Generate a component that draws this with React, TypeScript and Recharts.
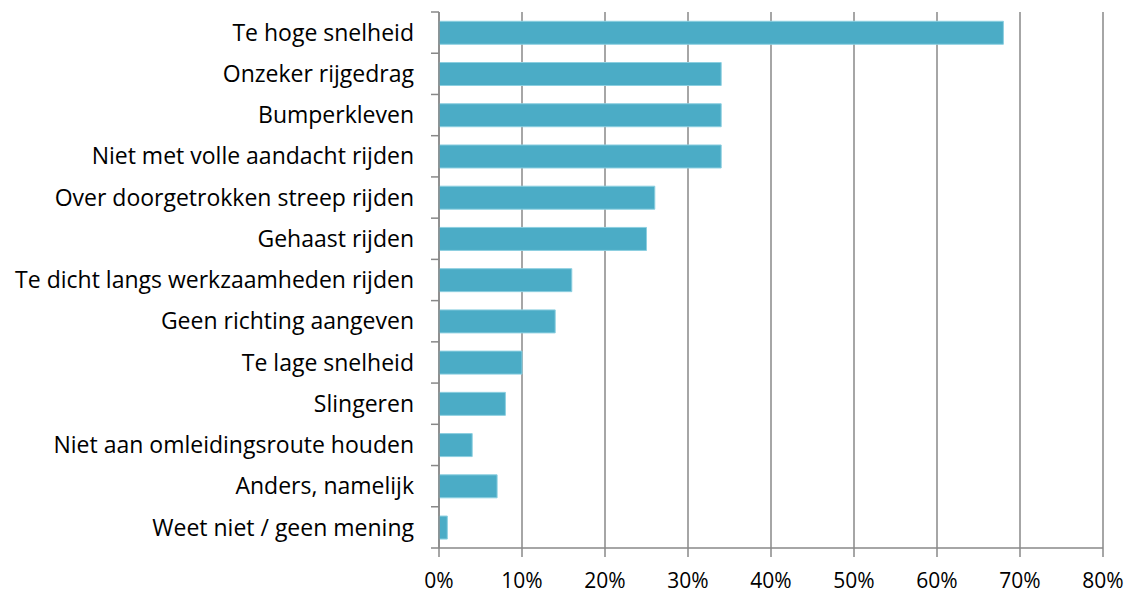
import React from 'react';
import { BarChart, Bar, XAxis, YAxis, CartesianGrid } from 'recharts';

const categories: string[] = [
  'Te hoge snelheid',
  'Onzeker rijgedrag',
  'Bumperkleven',
  'Niet met volle aandacht rijden',
  'Over doorgetrokken streep rijden',
  'Gehaast rijden',
  'Te dicht langs werkzaamheden rijden',
  'Geen richting aangeven',
  'Te lage snelheid',
  'Slingeren',
  'Niet aan omleidingsroute houden',
  'Anders, namelijk',
  'Weet niet / geen mening',
];
const values: number[] = [68, 34, 34, 34, 26, 25, 16, 14, 10, 8, 4, 7, 1];
const xTicks: number[] = [0, 10, 20, 30, 40, 50, 60, 70, 80];

const data = categories.map((name, i) => ({ name, value: values[i] }));

const GRAY = '#888888';
const FONT = "'Open Sans', sans-serif";
const Y_TICK_SIZE = 8;
const Y_TICK_MARGIN = 17;

const CategoryTick = (props: any) => {
  const { x, y, payload, index, visibleTicksCount } = props;
  const half: number = payload && typeof payload.offset === 'number' ? payload.offset : 0;
  const axisX = x + Y_TICK_SIZE + Y_TICK_MARGIN;
  const isLast = index === visibleTicksCount - 1;
  return (
    <g>
      <line x1={axisX - Y_TICK_SIZE} x2={axisX} y1={y - half} y2={y - half} stroke={GRAY} strokeWidth={1.5} />
      {isLast ? (
        <line x1={axisX - Y_TICK_SIZE} x2={axisX} y1={y + half} y2={y + half} stroke={GRAY} strokeWidth={1.5} />
      ) : null}
      <text x={x} y={y} dy="0.355em" textAnchor="end" fill="#000000" fontSize={23} fontFamily={FONT}>
        {payload.value}
      </text>
    </g>
  );
};

export default function App() {
  return (
    <div style={{ position: 'absolute', left: 0, top: 0, width: 1132, height: 597, background: '#ffffff' }}>
      <BarChart
        width={1132}
        height={597}
        data={data}
        layout="vertical"
        margin={{ top: 12, right: 29, bottom: 0, left: 0 }}
        barCategoryGap="22.5%"
      >
        <CartesianGrid horizontal={false} vertical={true} stroke={GRAY} strokeWidth={1.5} />
        <XAxis
          type="number"
          domain={[0, 80]}
          ticks={xTicks}
          interval={0}
          tickFormatter={(v: number) => `${v}%`}
          height={49}
          axisLine={{ stroke: GRAY, strokeWidth: 1.5 }}
          tickLine={{ stroke: GRAY, strokeWidth: 1.5 }}
          tickSize={9}
          tickMargin={16}
          tick={{ fill: '#000000', fontSize: 21, fontFamily: FONT }}
        />
        <YAxis
          type="category"
          dataKey="name"
          width={439}
          interval={0}
          axisLine={{ stroke: GRAY, strokeWidth: 1.5 }}
          tickLine={false}
          tickSize={Y_TICK_SIZE}
          tickMargin={Y_TICK_MARGIN}
          tick={<CategoryTick />}
        />
        <Bar dataKey="value" fill="#4BACC6" stroke="#8ccfe0" strokeWidth={1} isAnimationActive={false} />
      </BarChart>
    </div>
  );
}
